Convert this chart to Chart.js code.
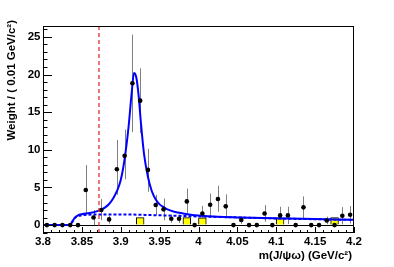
<!DOCTYPE html>
<html>
<head>
<meta charset="utf-8">
<script src="https://cdn.jsdelivr.net/npm/chart.js@4.4.0/dist/chart.umd.min.js"></script>
<style>
  html, body { margin: 0; padding: 0; background: #fff; }
  canvas { display: block; }
</style>
</head>
<body>
<canvas id="chart" width="394" height="267"></canvas>
<script>
// Bin centres (0.01 GeV bins)
const binCenters = [3.805, 3.815, 3.825, 3.835, 3.845, 3.855, 3.865, 3.875, 3.885, 3.895,
  3.905, 3.915, 3.925, 3.935, 3.945, 3.955, 3.965, 3.975, 3.985, 3.995,
  4.005, 4.015, 4.025, 4.035, 4.045, 4.055, 4.065, 4.075, 4.085, 4.095,
  4.105, 4.115, 4.125, 4.135, 4.145, 4.155, 4.165, 4.175, 4.185, 4.195];

// Weighted data
const weights = [0, 0, 0, 0, 0, 4.67, 1.0, 2.0, 0.76, 7.42,
  9.2, 18.85, 16.53, 7.33, 2.67, 2.09, 0.85, 0.85, 3.15, 0,
  1.55, 2.7, 3.47, 2.49, 0, 0.67, 0, 0, 1.55, 0,
  1.29, 1.29, 0, 2.36, 0, 0, 0.62, 0, 1.24, 1.38];
const errUp = [0, 0, 0, 0, 0, 3.3, 1.0, 1.45, 0.5, 3.9,
  3.5, 6.45, 4.3, 2.8, 1.35, 1.45, 0.55, 0.55, 1.7, 0,
  1.0, 1.5, 1.75, 1.6, 0, 0.5, 0, 0, 1.1, 0,
  1.15, 1.15, 0, 1.45, 0, 0, 0.5, 0, 1.15, 1.15];
const errDown = [0, 0, 0, 0, 0, 3.1, 1.0, 1.35, 0.55, 3.4,
  3.1, 6.5, 4.3, 2.9, 1.35, 1.45, 0.55, 0.55, 1.6, 0,
  1.05, 1.55, 1.7, 1.6, 0, 0.5, 0, 0, 1.1, 0,
  1.15, 1.15, 0, 1.45, 0, 0, 0.5, 0, 1.15, 1.15];

// Sideband histogram (yellow)
const sideband = [0, 0, 0, 0, 0, 0, 0, 0, 0, 0,
  0, 0, 1.0, 0, 0, 0, 0, 0, 1.0, 0,
  0.95, 0, 0, 0, 0, 0, 0, 0, 0, 0,
  0.85, 0, 0, 0, 0, 0, 0, 1.0, 0, 0];

// Fit: total (solid) and background (dotted)
const fitX = [3.80, 3.83, 3.835, 3.838, 3.841, 3.845, 3.85, 3.86, 3.87, 3.875,
  3.88, 3.885, 3.89, 3.895, 3.90, 3.905, 3.91, 3.914, 3.917, 3.92,
  3.923, 3.926, 3.93, 3.935, 3.94, 3.945, 3.95, 3.955, 3.96, 3.97,
  3.98, 3.99, 4.00, 4.025, 4.05, 4.10, 4.15, 4.20];
const fitTotal = [0, 0, 0.05, 0.5, 1.0, 1.3, 1.45, 1.6, 1.85, 2.05,
  2.35, 2.8, 3.5, 4.5, 6.0, 8.8, 13.0, 17.5, 20.2, 19.6,
  17.2, 13.5, 9.4, 6.4, 4.5, 3.4, 2.75, 2.4, 2.1, 1.75,
  1.55, 1.38, 1.27, 1.1, 1.02, 0.9, 0.8, 0.7];
const bkgX = [3.80, 3.835, 3.838, 3.841, 3.845, 3.85, 3.87, 3.90, 3.94, 4.00, 4.05, 4.10, 4.15, 4.20];
const fitBkg = [0, 0, 0.5, 0.95, 1.2, 1.3, 1.42, 1.42, 1.33, 1.15, 1.02, 0.88, 0.78, 0.68];

// X(3872) marker
const markerMass = 3.872;

// Axes
const xTicks = [3.8, 3.85, 3.9, 3.95, 4.0, 4.05, 4.1, 4.15, 4.2];
const xTickLabels = ["3.8", "3.85", "3.9", "3.95", "4", "4.05", "4.1", "4.15", "4.2"];
const yTicks = [0, 5, 10, 15, 20, 25];
const yTickLabels = ["0", "5", "10", "15", "20", "25"];
const xTitle = "m(J/\u03c8\u03c9) (GeV/c\u00b2)";
const yTitle = "Weight / ( 0.01 GeV/c\u00b2)";

const labelFont = { family: "'Liberation Sans', Arial, sans-serif", size: 11.5, weight: "bold" };

function pts(xs, ys) {
  return xs.map((x, i) => ({ x: x, y: ys[i] }));
}

// ROOT-like frame, inward ticks, error bars, marker line and titles
const rootStyle = {
  id: "rootStyle",
  beforeDatasetsDraw(chart) {
    const { ctx, scales: { x, y } } = chart;
    ctx.save();
    ctx.strokeStyle = "#808080";
    ctx.lineWidth = 1;
    binCenters.forEach((c, i) => {
      if (errUp[i] === 0 && errDown[i] === 0) return;
      const px = Math.round(x.getPixelForValue(c)) + 0.5;
      ctx.beginPath();
      ctx.moveTo(px, y.getPixelForValue(weights[i] + errUp[i]));
      ctx.lineTo(px, y.getPixelForValue(weights[i] - errDown[i]));
      ctx.stroke();
    });
    ctx.restore();
  },
  afterDatasetsDraw(chart) {
    const { ctx, chartArea: a, scales: { x, y } } = chart;
    ctx.save();
    // red dashed line
    const mx = x.getPixelForValue(markerMass);
    ctx.strokeStyle = "#e02020";
    ctx.lineWidth = 1.2;
    ctx.setLineDash([4, 3]);
    ctx.beginPath();
    ctx.moveTo(mx, a.top);
    ctx.lineTo(mx, a.bottom);
    ctx.stroke();
    ctx.setLineDash([]);

    // frame
    ctx.strokeStyle = "#000";
    ctx.lineWidth = 1;
    ctx.strokeRect(a.left + 0.5, a.top + 0.5, a.right - a.left - 1, a.bottom - a.top - 1);

    // y ticks (inward)
    ctx.beginPath();
    for (let v = Math.ceil(y.min); v <= y.max; v++) {
      const py = Math.round(y.getPixelForValue(v)) + 0.5;
      const len = v % 5 === 0 ? 9 : 4.5;
      ctx.moveTo(a.left, py);
      ctx.lineTo(a.left + len, py);
    }
    // x ticks (inward)
    for (let k = 0; k <= 40; k++) {
      const v = 3.8 + k * 0.01;
      const px = Math.round(x.getPixelForValue(v)) + 0.5;
      const len = k % 5 === 0 ? 6 : 3;
      ctx.moveTo(px, a.bottom);
      ctx.lineTo(px, a.bottom - len);
    }
    ctx.stroke();
    ctx.restore();
  },
  afterDraw(chart) {
    const { ctx, chartArea: a } = chart;
    ctx.save();
    ctx.fillStyle = "#000";
    ctx.textAlign = "right";
    ctx.textBaseline = "middle";
    ctx.font = "bold 11.5px 'Liberation Sans', Arial, sans-serif";
    ctx.fillText(xTitle, a.right - 2, 256);
    ctx.font = "bold 11.5px 'Liberation Sans', Arial, sans-serif";
    ctx.translate(12, 20);
    ctx.rotate(-Math.PI / 2);
    ctx.fillText(yTitle, 0, 0);
    ctx.restore();
  }
};

const ctx = document.getElementById("chart").getContext("2d");
new Chart(ctx, {
  data: {
    datasets: [
      {
        type: "scatter",
        data: pts(binCenters, weights),
        pointRadius: 2.3,
        pointBackgroundColor: "#000",
        pointBorderWidth: 0,
        order: 0
      },
      {
        type: "line",
        data: pts(fitX, fitTotal),
        borderColor: "#0000ff",
        borderWidth: 2,
        pointRadius: 0,
        cubicInterpolationMode: "monotone",
        fill: false,
        order: 1
      },
      {
        type: "line",
        data: pts(bkgX, fitBkg),
        borderColor: "#0000ff",
        borderWidth: 2,
        borderDash: [3, 2],
        pointRadius: 0,
        cubicInterpolationMode: "monotone",
        fill: false,
        order: 2
      },
      {
        type: "bar",
        data: pts(binCenters, sideband),
        backgroundColor: "#ffff00",
        borderColor: "#000",
        borderWidth: 1,
        borderSkipped: "start",
        barPercentage: 1.0,
        categoryPercentage: 1.0,
        order: 3
      }
    ]
  },
  options: {
    responsive: false,
    animation: false,
    devicePixelRatio: 1,
    layout: { padding: { left: 0, right: 40, top: 26, bottom: 0 } },
    plugins: { legend: { display: false }, tooltip: { enabled: false } },
    scales: {
      x: {
        type: "linear",
        min: 3.8,
        max: 4.2,
        offset: false,
        afterBuildTicks: axis => { axis.ticks = xTicks.map(v => ({ value: v })); },
        afterFit: axis => { axis.height = 34; },
        ticks: {
          callback: (v, i) => xTickLabels[i],
          font: labelFont,
          color: "#000",
          padding: 2,
          maxRotation: 0,
          autoSkip: false
        },
        grid: { display: false, drawTicks: false },
        border: { display: false }
      },
      y: {
        type: "linear",
        min: -1.05,
        max: 26.45,
        afterBuildTicks: axis => { axis.ticks = yTicks.map(v => ({ value: v })); },
        afterFit: axis => { axis.width = 43; },
        ticks: {
          callback: (v, i) => yTickLabels[i],
          font: labelFont,
          color: "#000",
          padding: 2.5
        },
        grid: {
          drawTicks: false,
          lineWidth: 1,
          color: c => (c.tick && c.tick.value === 0 ? "#000" : "rgba(0,0,0,0)")
        },
        border: { display: false }
      }
    }
  },
  plugins: [rootStyle]
});
</script>
</body>
</html>
